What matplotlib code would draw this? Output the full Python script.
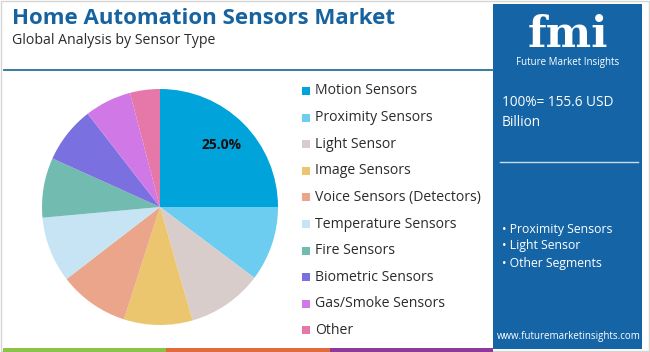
import matplotlib
matplotlib.use("Agg")
import matplotlib.pyplot as plt
from matplotlib.patches import Rectangle

categories = ["Motion Sensors", "Proximity Sensors", "Light Sensor", "Image Sensors",
              "Voice Sensors (Detectors)", "Temperature Sensors", "Fire Sensors",
              "Biometric Sensors", "Gas/Smoke Sensors", "Other"]
shares = [25.0, 10.25, 10.3, 9.4, 9.6, 9.0, 8.2, 7.75, 6.4, 4.1]
colors = ["#00A3DA", "#6DCDF0", "#D8CDCA", "#EBC66E", "#EAA58B",
          "#C6E4F3", "#72BBB1", "#7B70E0", "#CF78E6", "#E578A9"]
title = "Home Automation Sensors Market"
subtitle = "Global Analysis by Sensor Type"
total_text = ["100%= 155.6 USD", "Billion"]
key_segments = ["Proximity Sensors", "Light Sensor", "Other Segments"]
url = "www.futuremarketinsights.com"

W, H = 650, 352
fig = plt.figure(figsize=(W / 100, H / 100), dpi=100)
fig.patch.set_facecolor("white")
FONT = "Open Sans"

def fx(x):
    return x / W

def fy(y):
    return 1 - y / H

bg = fig.add_axes([0, 0, 1, 1])
bg.set_xlim(0, W)
bg.set_ylim(H, 0)
bg.axis("off")

# outer frame
bg.add_patch(Rectangle((1, 1), W - 2, H - 2, fill=False, edgecolor="#D5D5D5", lw=1))
# header line
bg.plot([4, 493], [70, 70], color="#2A6F9E", lw=1.3)
# bottom strips
bg.add_patch(Rectangle((3, 348), 163, 4, color="#8BC34A", lw=0))
bg.add_patch(Rectangle((166, 348), 164, 4, color="#E06B3C", lw=0))
bg.add_patch(Rectangle((330, 348), 163, 4, color="#8E3A9A", lw=0))
# right panel
panel_c = "#1565A6"
bg.add_patch(Rectangle((493, 4), 149, 345, color=panel_c, lw=0))

# titles
fig.text(fx(12), fy(18), title, fontsize=16, fontweight="bold", color="#1763A0",
         family=FONT, va="center", ha="left")
fig.text(fx(12), fy(41), subtitle, fontsize=10.2, color="#2B2B2B",
         family=FONT, va="center", ha="left")

# pie
cx, cy, r = 160, 207, 118
ax = fig.add_axes([fx(cx - r), 1 - (cy + r) / H, 2 * r / W, 2 * r / H])
wedges, _, autotexts = ax.pie(shares, colors=colors, startangle=90, counterclock=False,
                              autopct=lambda p: f"{p:.1f}%" if p > 20 else "",
                              pctdistance=0.74, wedgeprops=dict(linewidth=0),
                              textprops=dict(fontsize=10, fontweight="bold",
                                             color="#111111", family=FONT))
ax.set_aspect("equal")
ax.set_xlim(-1, 1)
ax.set_ylim(-1, 1)

# legend
y0, dy = 91, 26.6
for i, (cat, col) in enumerate(zip(categories, colors)):
    y = y0 + i * dy
    bg.add_patch(Rectangle((302, y - 4), 8, 8, color=col, lw=0))
    bg.text(315, y, cat, fontsize=10.1, color="#2B2B2B", family=FONT,
            va="center", ha="left")

# logo
bg.text(568, 56, "fmi", fontsize=31, fontweight="bold", color="white",
        family="DejaVu Serif", ha="center", va="bottom")
for yy in range(17, 50, 3):
    bg.plot([515, 622], [yy + 0.5, yy + 0.5], color=panel_c, lw=0.6)
bg.text(568, 63, "Future Market Insights", fontsize=7, color="white",
        family=FONT, ha="center", va="center")

# panel texts
bg.text(502, 103, total_text[0], fontsize=9.8, color="white", family=FONT,
        ha="left", va="center")
bg.text(502, 122, total_text[1], fontsize=9.8, color="white", family=FONT,
        ha="left", va="center")
bg.plot([500, 638], [162, 162], color="#C8DDF0", lw=1)
for i, seg in enumerate(key_segments):
    bg.text(502, 229 + i * 17, "\u2022 " + seg, fontsize=8.8, color="white",
            family=FONT, ha="left", va="center")
bg.text(569, 337, url, fontsize=7, color="white", family=FONT,
        ha="center", va="center")

fig.savefig("out.png", dpi=100, facecolor="white")
